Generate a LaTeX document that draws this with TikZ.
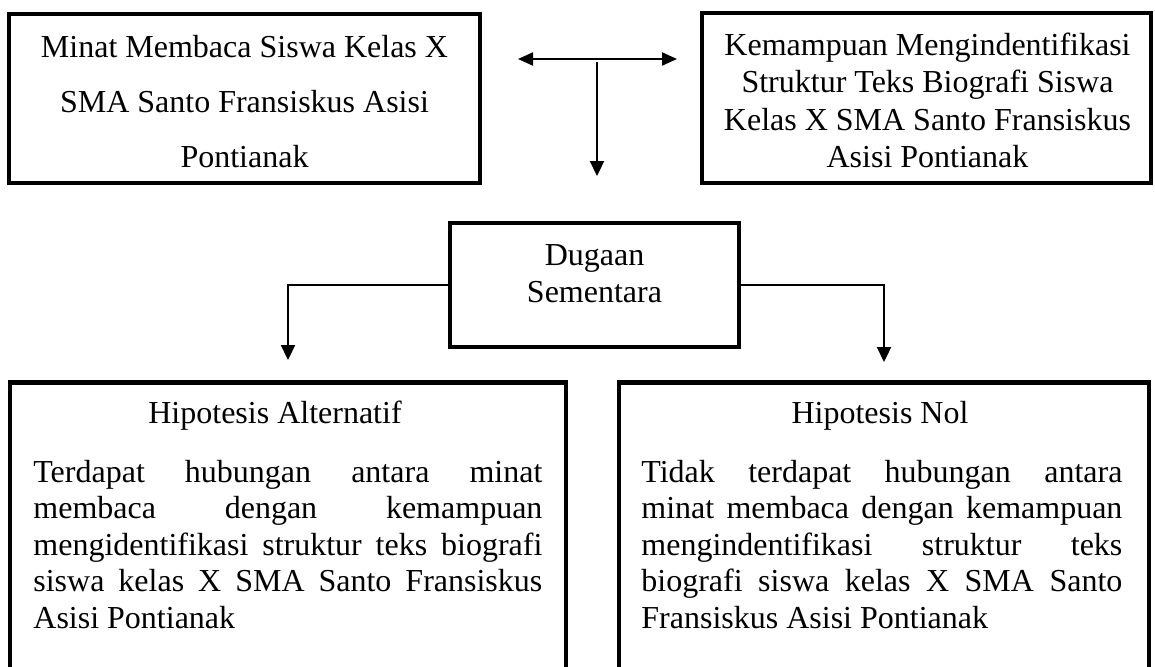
\documentclass[tikz,border=0pt]{standalone}
\usepackage{fontspec}
\setmainfont{Liberation Serif}
\usetikzlibrary{arrows.meta,positioning,calc}
\newcommand{\txtsize}[1]{\fontsize{16}{#1}\selectfont}
\tikzset{
 hblock/.style={rectangle, draw=black, line width=2.3pt, inner sep=0pt},
 tblock/.style={inner sep=0pt, anchor=base, align=center},
 pblock/.style={inner sep=0pt, anchor=base west, align=justify,
 font=\txtsize{18.25}},
 parrow/.style={-{Triangle[length=7.5pt,width=7pt]}, line width=1.1pt},
 darrow/.style={{Triangle[length=7.5pt,width=6.5pt]}-{Triangle[length=7.5pt,width=6.5pt]},
 line width=1pt},
}

\begin{document}
\begin{tikzpicture}[x=0.5pt, y=-0.5pt]
\path[use as bounding box, clip] (0,0) rectangle (1155,666);

% ,  Top row: the two variables , , , , , , , , , , , ,
% (base of a multi-line node = baseline of its last line)
\node[hblock, minimum width=235.5pt, minimum height=84.5pt] (minat) at (244.5,98.5) {};
\node[tblock, font=\txtsize{27.5}] (minatT) at (244.5,167) {%
  Minat Membaca Siswa Kelas X\\
  SMA Santo Fransiskus Asisi\\
  Pontianak};

\node[hblock, minimum width=224.5pt, minimum height=85pt] (kemampuan) at (926.5,98) {};
\node[tblock, font=\txtsize{18.75}] (kemampuanT) at (927.5,167.5) {%
  Kemampuan Mengindentifikasi\\
  Struktur Teks Biografi Siswa\\
  Kelas X SMA Santo Fransiskus\\
  Asisi Pontianak};

% relation arrows (free-standing)
\coordinate (relL) at (518,59);
\coordinate (relR) at (677,59);
\coordinate (relTop) at (597,62);
\coordinate (relBot) at (597,176);
\draw[darrow] (relL) -- (relR);
\draw[parrow] (relTop) -- (relBot);

% ,  Middle: hypothesis box , , , , , , , , , , , , ,
\node[hblock, minimum width=144.5pt, minimum height=62pt] (dugaan) at (594.5,285) {};
\node[tblock, font=\txtsize{18.5}] (dugaanT) at (594.5,302) {Dugaan\\Sementara};

% ,  Bottom row: the two hypotheses , , , , , , , , ,
\node[hblock, anchor=north, minimum width=278pt, minimum height=200pt] (hipa) at (288,380) {};
\node[tblock, font=\txtsize{18}] (hipaT) at (275,423) {Hipotesis Alternatif};
\node[pblock, text width=254.5pt] (hipaP) at (33,482) {%
  Terdapat hubungan antara minat\linebreak
  membaca dengan kemampuan\linebreak
  mengidentifikasi struktur teks biografi\linebreak
  siswa kelas X SMA Santo Fransiskus\linebreak
  Asisi Pontianak};

\node[hblock, anchor=north, minimum width=265pt, minimum height=200pt] (hipn) at (884,380) {};
\node[tblock, font=\txtsize{18}] (hipnT) at (880,423) {Hipotesis Nol};
\node[pblock, text width=240.5pt] (hipnP) at (641,482) {%
  Tidak terdapat hubungan antara\linebreak
  minat membaca dengan kemampuan\linebreak
  mengindentifikasi struktur teks\linebreak
  biografi siswa kelas X SMA Santo\linebreak
  Fransiskus Asisi Pontianak};

% branch arrows
\draw[parrow, shorten >=10pt] (dugaan.west) -| (hipa.north);
\draw[parrow, shorten >=9pt] (dugaan.east) -| (hipn.north);

\end{tikzpicture}
\end{document}
